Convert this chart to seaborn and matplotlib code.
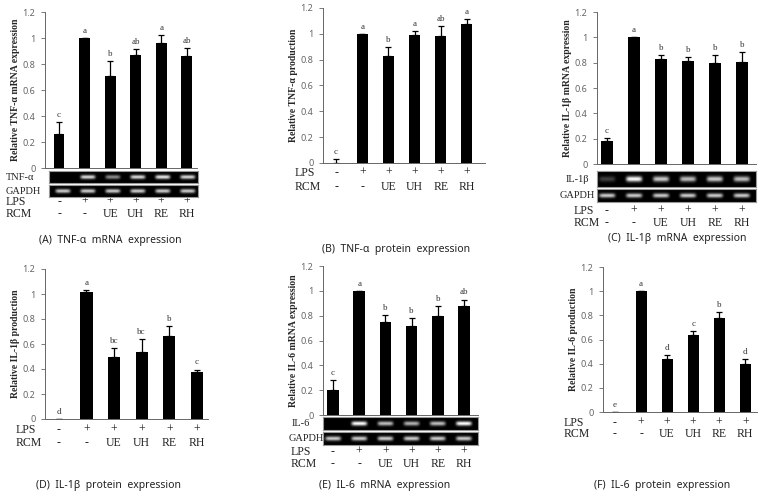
import numpy as np
import pandas as pd
import matplotlib
matplotlib.use("Agg")
import matplotlib.pyplot as plt
import matplotlib.transforms as mtransforms
import seaborn as sns

# lanes
lps = ["-", "+", "+", "+", "+", "+"]
rcm = ["-", "-", "UE", "UH", "RE", "RH"]

# (A) TNF-a mRNA
tnf_mrna = [0.26, 1.0, 0.71, 0.87, 0.965, 0.86]
tnf_mrna_err = [0.095, 0.0, 0.115, 0.045, 0.06, 0.06]
tnf_mrna_sig = ["c", "a", "b", "ab", "a", "ab"]
tnf_band = [0.0, 0.85, 0.55, 0.85, 0.9, 0.85]

# (B) TNF-a protein
tnf_prot = [0.003, 1.0, 0.825, 0.99, 0.98, 1.075]
tnf_prot_err = [0.03, 0.0, 0.075, 0.03, 0.08, 0.04]
tnf_prot_sig = ["c", "a", "b", "a", "ab", "a"]

# (C) IL-1b mRNA
il1_mrna = [0.18, 1.0, 0.83, 0.815, 0.795, 0.805]
il1_mrna_err = [0.025, 0.0, 0.03, 0.03, 0.065, 0.08]
il1_mrna_sig = ["c", "a", "b", "b", "b", "b"]
il1_band = [0.25, 1.0, 0.8, 0.75, 0.8, 0.75]

# (D) IL-1b protein
il1_prot = [0.002, 1.015, 0.495, 0.54, 0.665, 0.375]
il1_prot_err = [0.0, 0.015, 0.07, 0.1, 0.08, 0.02]
il1_prot_sig = ["d", "a", "bc", "bc", "b", "c"]

# (E) IL-6 mRNA
il6_mrna = [0.205, 1.0, 0.75, 0.72, 0.795, 0.88]
il6_mrna_err = [0.075, 0.0, 0.055, 0.06, 0.08, 0.05]
il6_mrna_sig = ["c", "a", "b", "b", "b", "ab"]
il6_band = [0.0, 1.0, 0.75, 0.7, 0.75, 1.0]

# (F) IL-6 protein
il6_prot = [0.003, 1.0, 0.435, 0.64, 0.775, 0.40]
il6_prot_err = [0.0, 0.0, 0.04, 0.03, 0.05, 0.035]
il6_prot_sig = ["e", "a", "d", "c", "b", "d"]

gapdh_band = [0.8, 0.8, 0.8, 0.8, 0.8, 0.8]

yticks = [0, 0.2, 0.4, 0.6, 0.8, 1.0, 1.2]
ytick_labels = ["0", "0.2", "0.4", "0.6", "0.8", "1", "1.2"]

sns.set_style("white")
plt.rcParams["font.family"] = ["Liberation Serif", "DejaVu Serif"]

W, H = 765, 494
fig = plt.figure(figsize=(W / 100, H / 100), dpi=100)
GREY = "#666666"
TXT = "#222222"


def px_axes(l, t, r, b):
    return fig.add_axes([l / W, 1 - b / H, (r - l) / W, (b - t) / H])


def fy(y):
    return 1 - y / H


def bar_panel(rect, xlim, vals, errs, sig, ylabel, bw=0.44):
    ax = px_axes(*rect)
    df = pd.DataFrame({"lane": range(6), "val": vals})
    sns.barplot(data=df, x="lane", y="val", color="black", saturation=1,
                width=bw, ax=ax, errorbar=None, linewidth=0,
                edgecolor="black")
    ax.errorbar(range(6), vals, yerr=[np.zeros(6), errs], fmt="none",
                ecolor="black", elinewidth=0.9, capsize=2.2, capthick=0.9)
    for i, (v, e, s) in enumerate(zip(vals, errs, sig)):
        ax.text(i, v + e + 0.025, s, ha="center", va="bottom",
                fontsize=6.5, color="#333333")
    ax.set_xlim(*xlim)
    ax.set_ylim(0, 1.2)
    ax.set_yticks(yticks)
    ax.set_yticklabels(ytick_labels, family=["Noto Sans", "DejaVu Sans"])
    ax.set_xticks([])
    ax.set_xlabel("")
    ax.set_ylabel(ylabel, fontsize=7, fontweight="bold", labelpad=1.5,
                  fontstretch="condensed")
    ax.tick_params(axis="y", labelsize=6.5, labelcolor=GREY, length=3,
                   width=0.6, color=GREY, direction="out", left=True, pad=4)
    sns.despine(ax=ax)
    for sp in ("left", "bottom"):
        ax.spines[sp].set_color(GREY)
        ax.spines[sp].set_linewidth(0.7)
    ax.patch.set_alpha(0)
    return ax


def gel_row(rect, xlim, bands, label, label_x):
    ax = px_axes(*rect)
    xs = np.linspace(xlim[0], xlim[1], 300)
    ys = np.linspace(-1, 1, 30)
    img = np.zeros((ys.size, xs.size))
    for i, b in enumerate(bands):
        prof_x = np.exp(-((xs - i) / 0.3) ** 6)
        prof_y = np.exp(-(ys / 0.35) ** 2)
        img += b * np.outer(prof_y, prof_x)
    ax.imshow(img, cmap="gray", vmin=0, vmax=1, aspect="auto",
              extent=(xlim[0], xlim[1], -1, 1), interpolation="bilinear")
    ax.set_xticks([])
    ax.set_yticks([])
    for sp in ax.spines.values():
        sp.set_color("#999999")
        sp.set_linewidth(0.8)
    fig.text(label_x / W, fy((rect[1] + rect[3]) / 2), label, fontsize=7.5,
             va="center", ha="left", color=TXT)


def lane_labels(ax, lab_x, y_lps, y_rcm):
    tr = mtransforms.blended_transform_factory(ax.transData, fig.transFigure)
    for i in range(6):
        ax.text(i, fy(y_lps), lps[i], transform=tr, ha="center", va="center",
                fontsize=8.5, color=TXT)
        ax.text(i, fy(y_rcm), rcm[i], transform=tr, ha="center", va="center",
                fontsize=8.5, color=TXT)
    fig.text(lab_x / W, fy(y_lps), "LPS", fontsize=8.5, va="center", color=TXT)
    fig.text(lab_x / W, fy(y_rcm), "RCM", fontsize=8.5, va="center", color=TXT)


def caption(x, y, txt):
    fig.text(x / W, fy(y), txt, ha="center", va="center", fontsize=7.5,
             family=["Noto Sans", "DejaVu Sans"], color=TXT)


# (A)
xa = (-0.55, 5.4)
axA = bar_panel((45, 12, 197, 168), xa, tnf_mrna, tnf_mrna_err, tnf_mrna_sig,
                "Relative TNF-α mRNA expression", bw=0.42)
gel_row((49, 171, 198, 183), xa, tnf_band, "TNF-α", 6)
gel_row((49, 185, 198, 197), xa, gapdh_band, "GAPDH", 6)
lane_labels(axA, 6, 202, 214)
caption(110, 240, "(A)  TNF-α  mRNA  expression")

# (B)
xb = (-0.5, 5.69)
axB = bar_panel((323, 8, 485, 163), xb, tnf_prot, tnf_prot_err, tnf_prot_sig,
                "Relative TNF-α production", bw=0.42)
lane_labels(axB, 295, 173, 187)
caption(396, 249, "(B)  TNF-α  protein  expression")

# (C)
xc = (-0.37, 5.52)
axC = bar_panel((597, 12, 756, 164), xc, il1_mrna, il1_mrna_err, il1_mrna_sig,
                "Relative IL-1β mRNA expression", bw=0.46)
gel_row((597, 171, 756, 187), xc, il1_band, "IL-1β", 566)
gel_row((597, 189, 756, 202), xc, gapdh_band, "GAPDH", 560)
lane_labels(axC, 574, 211, 223)
caption(677, 238, "(C)  IL-1β  mRNA  expression")

# (D)
xd = (-0.5, 5.4)
axD = bar_panel((45, 269, 208, 419), xd, il1_prot, il1_prot_err, il1_prot_sig,
                "Relative IL-1β production")
lane_labels(axD, 16, 430, 443)
caption(109, 485, "(D)  IL-1β  protein  expression")

# (E)
xe = (-0.38, 5.53)
axE = bar_panel((323, 266, 478, 415), xe, il6_mrna, il6_mrna_err, il6_mrna_sig,
                "Relative IL-6 mRNA expression")
gel_row((323, 417, 478, 430), xe, il6_band, "IL-6", 292)
gel_row((323, 432, 478, 445), xe, gapdh_band, "GAPDH", 289)
lane_labels(axE, 291, 452, 464)
caption(385, 485, "(E)  IL-6  mRNA  expression")

# (F)
xf = (-0.46, 5.45)
axF = bar_panel((603, 267, 757, 412), xf, il6_prot, il6_prot_err, il6_prot_sig,
                "Relative IL-6 production", bw=0.42)
lane_labels(axF, 564, 423, 434)
caption(662, 485, "(F)  IL-6  protein  expression")

fig.savefig("out.png", dpi=100)
